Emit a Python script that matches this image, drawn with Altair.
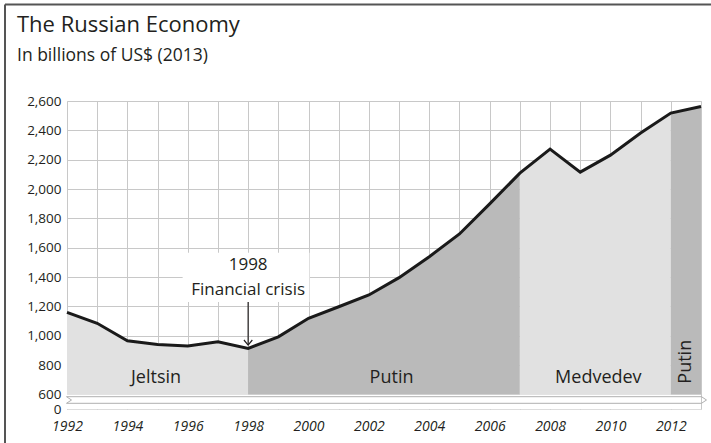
import altair as alt
import pandas as pd

# ---------------- data ----------------
years = list(range(1992, 2014))
gdp = [1160, 1085, 966, 941, 930, 959, 914, 993, 1119, 1198, 1278,
       1396, 1539, 1694, 1899, 2108, 2272, 2115, 2231, 2382, 2518, 2563]

period_names = ["Jeltsin", "Putin", "Medvedev", "Putin"]
period_start = [1992, 1998, 2007, 2012]
period_end = [1998, 2007, 2012, 2013]
period_shade = ["light", "dark", "light", "dark"]
period_label_x = [1994.95, 2002.75, 2009.6, 2012.5]
period_label_y = [713, 713, 713, 823]
period_label_angle = [0, 0, 0, 270]

y_tick_values = [501, 600, 800, 1000, 1200, 1400, 1600, 1800, 2000, 2200, 2400, 2600]
area_base = 600
axis_zero = 501

annot_lines = ["1998", "Financial crisis"]
annot_line_y = [1483, 1312]
annot_year = 1998
annot_box_x = [1995.83, 2000.03]
annot_box_y = [1230, 1565]
arrow_from = 1230
arrow_to = 937

title_text = "The Russian Economy"
subtitle_text = "In billions of US$ (2013)"

FONT = "Open Sans"
TEXT = "#231f20"
GRID = "#c8c8c8"
W, H = 634, 308

# ---------------- tables ----------------
rows = []
for i, (s, e, sh) in enumerate(zip(period_start, period_end, period_shade)):
    for y, v in zip(years, gdp):
        if s <= y <= e:
            rows.append({"year": y, "gdp": v, "segment": i, "shade": sh})
area_df = pd.DataFrame(rows)
line_df = pd.DataFrame({"year": years, "gdp": gdp})
label_df = pd.DataFrame({"name": period_names, "x": period_label_x,
                         "y": period_label_y, "angle": period_label_angle})
annot_df = pd.DataFrame({"text": annot_lines, "y": annot_line_y, "x": [annot_year] * 2})
box_df = pd.DataFrame({"x": [annot_box_x[0]], "x2": [annot_box_x[1]],
                       "y": [annot_box_y[0]], "y2": [annot_box_y[1]]})
arrow_df = pd.DataFrame({"x": [annot_year], "y": [arrow_from], "y2": [arrow_to]})
band_df = pd.DataFrame({"x": [1992], "x2": [2013], "y": [area_base], "y2": [axis_zero]})
one = pd.DataFrame({"k": [0]})

xscale = alt.Scale(domain=[1992, 2013], nice=False, zero=False)
yscale = alt.Scale(domain=[axis_zero, 2600], nice=False, zero=False)

x_axis = alt.Axis(values=years, grid=True, gridColor=GRID, gridWidth=1,
                  ticks=False, domain=False, labelFlush=False, labelOverlap=False,
                  labelExpr="datum.value % 2 === 0 ? toString(datum.value) : ''",
                  labelFont=FONT, labelFontSize=14, labelFontStyle="italic",
                  labelColor=TEXT, labelPadding=10, title=None)
y_axis = alt.Axis(values=y_tick_values, grid=True, gridColor=GRID, gridWidth=1,
                  gridOpacity={"condition": {"test": "datum.value < 550", "value": 0}, "value": 1},
                  ticks=False, domain=False, labelOverlap=False,
                  labelExpr="datum.value < 550 ? '0' : format(datum.value, ',')",
                  labelFont=FONT, labelFontSize=13.5, labelColor=TEXT,
                  labelPadding=6, title=None)


def X(field):
    return alt.X(field, scale=xscale, axis=x_axis)


def Y(field, **kw):
    return alt.Y(field, scale=yscale, axis=y_axis, **kw)


band = alt.Chart(band_df).mark_rect(color="white").encode(
    x=X("x:Q"), x2="x2:Q", y=Y("y:Q"), y2="y2:Q")

area = alt.Chart(area_df).mark_area(opacity=1).encode(
    x=X("year:Q"), y=Y("gdp:Q", stack=None), y2=alt.datum(area_base),
    color=alt.Color("shade:N", scale=alt.Scale(domain=["light", "dark"],
                    range=["#e1e1e1", "#bababa"]), legend=None),
    detail="segment:N")

line = alt.Chart(line_df).mark_line(color="#1a1a1a", strokeWidth=3).encode(
    x=X("year:Q"), y=Y("gdp:Q"))

labels = alt.Chart(label_df).mark_text(font=FONT, fontSize=18, color=TEXT,
                                       baseline="middle", align="center").encode(
    x=X("x:Q"), y=Y("y:Q"),
    angle=alt.Angle("angle:Q", scale=None),
    text="name:N")

box = alt.Chart(box_df).mark_rect(color="white").encode(
    x=X("x:Q"), x2="x2:Q", y=Y("y:Q"), y2="y2:Q")

annot = alt.Chart(annot_df).mark_text(font=FONT, fontSize=17, color=TEXT,
                                      baseline="middle", align="center").encode(
    x=X("x:Q"), y=Y("y:Q"), text="text:N")

arrow = alt.Chart(arrow_df).mark_rule(color=TEXT, strokeWidth=1.2).encode(
    x=X("x:Q"), y=Y("y:Q"), y2="y2:Q")

head = alt.Chart(arrow_df).mark_point(shape="M-1,-1.2L0,0L1,-1.2", filled=False,
                                      color=TEXT, strokeWidth=1.2, size=70,
                                      opacity=1).encode(
    x=X("x:Q"), y=Y("y2:Q"))

# decorative break band (pixel space inside plot)
brk_top, brk_bot = 295.7, 302.3
brk_mid = (brk_top + brk_bot) / 2
segments = [
    (-0.5, brk_top, W + 0.5, brk_top),
    (-0.5, brk_bot, W + 0.5, brk_bot),
    (-0.5, brk_top, 4.5, brk_mid),
    (4.5, brk_mid, -0.5, brk_bot),
    (W + 0.5, brk_top, W + 5.5, brk_mid),
    (W + 5.5, brk_mid, W + 0.5, brk_bot),
]
deco = []
for (x1, y1, x2, y2) in segments:
    deco.append(alt.Chart(one).mark_rule(color="#b0b0b0", strokeWidth=1, clip=False).encode(
        x=alt.value(x1), x2=alt.value(x2), y=alt.value(y1), y2=alt.value(y2)))

# outer frame (top and left edges)
deco.append(alt.Chart(one).mark_rule(color="#555555", strokeWidth=2, clip=False).encode(
    x=alt.value(-62), x2=alt.value(W + 20), y=alt.value(-96.5)))
deco.append(alt.Chart(one).mark_rule(color="#555555", strokeWidth=2, clip=False).encode(
    x=alt.value(-62), y=alt.value(-96.5), y2=alt.value(H + 40)))

title = alt.Chart(one).mark_text(text=title_text, font=FONT, fontSize=22, color=TEXT,
                                 align="left", baseline="alphabetic").encode(
    x=alt.value(-50), y=alt.value(-69))
subtitle = alt.Chart(one).mark_text(text=subtitle_text, font=FONT, fontSize=17.5, color=TEXT,
                                    align="left", baseline="alphabetic").encode(
    x=alt.value(-50), y=alt.value(-40))

chart = alt.layer(band, area, line, labels, box, annot, arrow, head, *deco,
                  title, subtitle).properties(
    width=W, height=H,
    autosize=alt.AutoSizeParams(type="none"),
    padding={"left": 67, "top": 101, "right": 10, "bottom": 34},
).configure_view(stroke=None).configure(background="white")

chart.save("out.html", embed_options={"renderer": "svg", "actions": False})
